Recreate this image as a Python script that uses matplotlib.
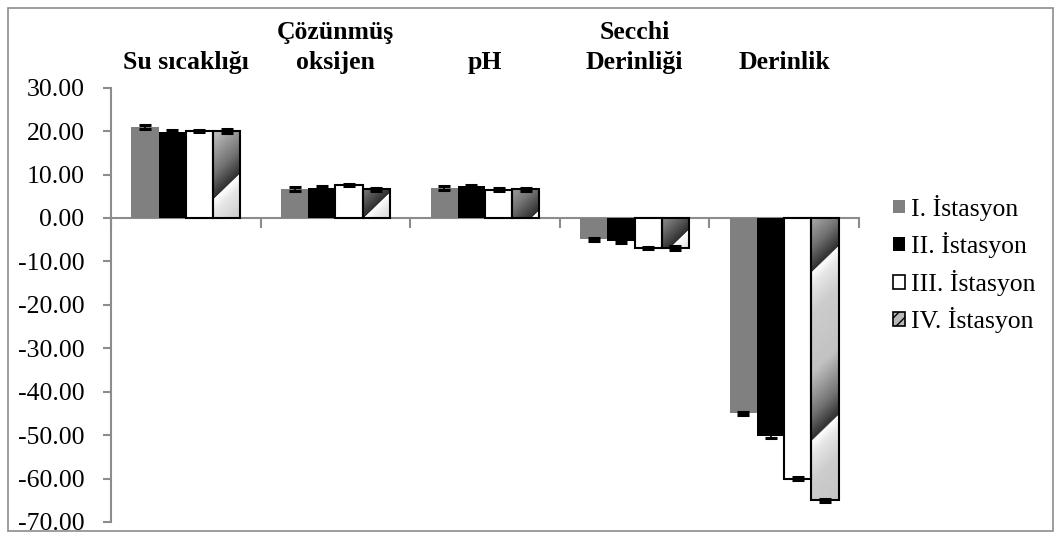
import numpy as np
import matplotlib
matplotlib.use("Agg")
import matplotlib.pyplot as plt
from matplotlib.patches import Patch, Rectangle
from matplotlib.transforms import blended_transform_factory

plt.rcParams['font.family'] = ['Liberation Serif', 'DejaVu Serif']

# data
categories = ['Su sıcaklığı', 'Çözünmüş\noksijen', 'pH', 'Secchi\nDerinliği', 'Derinlik']
stations = ['I. İstasyon', 'II. İstasyon', 'III. İstasyon', 'IV. İstasyon']
st1 = [21.0, 6.7, 6.9, -4.9, -45.0]
st2 = [19.9, 6.9, 7.3, -5.4, -50.2]
st3 = [20.0, 7.6, 6.5, -6.9, -60.0]
st4 = [20.0, 6.6, 6.6, -6.9, -65.0]
err1 = [0.4, 0.4, 0.4, 0.4, 0.4]
err2 = [0.4, 0.4, 0.4, 0.4, 0.4]
err3 = [0.3, 0.3, 0.3, 0.2, 0.3]
err4 = [0.4, 0.4, 0.4, 0.4, 0.4]
yticks = np.arange(-70, 31, 10)

W, H = 1062, 537
fig = plt.figure(figsize=(W / 100, H / 100), dpi=100)
ax = fig.add_axes([111 / W, 1 - 522 / H, 748 / W, 434.3 / H])

# figure frame
fig.patches.append(Rectangle((8 / W, 1 - 531 / H), 1045 / W, 523 / H, transform=fig.transFigure,
                             fill=False, edgecolor='#8c8c8c', linewidth=1.2))

x = np.arange(len(categories))
bw = 1 / 5.5
series = [st1, st2, st3, st4]
errs = [err1, err2, err3, err4]
faces = ['#808080', 'black', 'white', 'none']
edges = ['none', 'none', 'black', 'black']

ax.set_xlim(-0.5, len(categories) - 0.5)
ax.set_ylim(-70, 30)

bars_all = []
for k in range(4):
    pos = x + (k - 1.5) * bw
    b = ax.bar(pos, series[k], bw, color=faces[k], edgecolor=edges[k],
               linewidth=1.5, zorder=3)
    ax.errorbar(pos, series[k], yerr=errs[k], fmt='none', ecolor='black',
                elinewidth=1.2, capsize=4, capthick=2.2, zorder=4)
    bars_all.append(b)


def gradient_fill(bar):
    # metallic diagonal stripes like the office "gradient" fill
    x0, y0 = bar.get_x(), bar.get_y()
    w, h = bar.get_width(), bar.get_height()
    ylo, yhi = min(y0, y0 + h), max(y0, y0 + h)
    (px0, py0), (px1, py1) = ax.transData.transform([(x0, ylo), (x0 + w, yhi)])
    nx = max(int(round(px1 - px0)), 2)
    ny = max(int(round(py1 - py0)), 2)
    xx, yy = np.meshgrid(np.arange(nx), np.arange(ny))
    X = px0 + xx
    Y = (H - py1) + yy
    t = ((X + Y - 1084) / 168.0) % 1
    val = np.interp(t, [0, 0.08, 0.25, 0.6, 0.85, 1.0],
                    [1.0, 0.9, 0.8, 0.76, 0.45, 0.18])
    im = ax.imshow(val, cmap='gray', vmin=0, vmax=1, extent=(x0, x0 + w, ylo, yhi),
                   aspect='auto', origin='upper', interpolation='bilinear', zorder=2)
    im.set_clip_path(bar)


for bar in bars_all[3]:
    gradient_fill(bar)

ax.set_xlim(-0.5, len(categories) - 0.5)
ax.set_ylim(-70, 30)

# axes styling
for s in ['top', 'right']:
    ax.spines[s].set_visible(False)
ax.spines['left'].set_color('#8c8c8c')
ax.spines['left'].set_linewidth(1.5)
ax.spines['bottom'].set_position(('data', 0))
ax.spines['bottom'].set_color('#8c8c8c')
ax.spines['bottom'].set_linewidth(1.5)
ax.spines['bottom'].set_zorder(1)
ax.set_xticks(np.arange(len(categories) + 1) - 0.5)
ax.set_xticklabels([])
ax.tick_params(axis='x', direction='out', length=7, width=1.5, color='#8c8c8c')
ax.set_yticks(yticks)
ax.set_yticklabels(['%.2f' % v for v in yticks], fontsize=18.5)
ax.tick_params(axis='y', direction='out', length=6, width=1.5, color='#8c8c8c', pad=13)

trans = blended_transform_factory(ax.transData, ax.transAxes)
for i, c in enumerate(categories):
    ax.annotate(c, xy=(i, 1), xycoords=trans, xytext=(0, 10), textcoords='offset points',
                ha='center', va='bottom', fontsize=18.5, fontweight='bold', linespacing=1.4)

handles = [Patch(facecolor='#808080', edgecolor='none'),
           Patch(facecolor='black', edgecolor='none'),
           Patch(facecolor='white', edgecolor='black', linewidth=1.2),
           Patch(facecolor='#b8b8b8', edgecolor='black', hatch='///', linewidth=1.2)]
fig.legend(handles, stations, loc='center left', bbox_to_anchor=(893 / W, 1 - 264 / H),
           frameon=False, fontsize=18.5, handlelength=0.45, handleheight=0.45,
           handletextpad=0.25, labelspacing=0.45, borderpad=0, borderaxespad=0)

fig.savefig('out.png', dpi=100)
